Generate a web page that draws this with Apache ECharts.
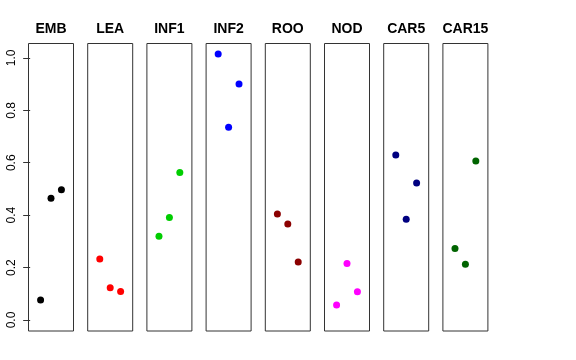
<!DOCTYPE html>
<html>
<head>
<meta charset="utf-8">
<script src="https://cdn.jsdelivr.net/npm/echarts@6/dist/echarts.min.js"></script>
<style>
html,body{margin:0;padding:0;background:#fff;}
#chart{width:576px;height:360px;}
</style>
</head>
<body>
<div id="chart"></div>
<script>
const categories = ['EMB', 'LEA', 'INF1', 'INF2', 'ROO', 'NOD', 'CAR5', 'CAR15'];
const positions = [1, 2, 3];
const rep1 = [0.076, 0.233, 0.320, 1.015, 0.404, 0.057, 0.630, 0.273];
const rep2 = [0.465, 0.123, 0.391, 0.735, 0.366, 0.216, 0.384, 0.213];
const rep3 = [0.497, 0.109, 0.563, 0.900, 0.221, 0.108, 0.523, 0.607];
const colors = ['#000000', '#FF0000', '#00CD00', '#0000FF', '#8B0000', '#FF00FF', '#000080', '#006400'];
const yTicks = [0, 0.2, 0.4, 0.6, 0.8, 1.0];

const FONT = "'Liberation Sans', Arial, Helvetica, sans-serif";
const panelLeft0 = 28.5, panelStep = 59.2, panelW = 45, panelTop = 43.5, panelH = 287.5;
const yMin = -0.042, yMax = 1.055;

const grids = [], xAxes = [], yAxes = [], series = [], titles = [];
categories.forEach((name, i) => {
  const l = panelLeft0 + i * panelStep;
  grids.push({ left: l, top: panelTop, width: panelW, height: panelH, show: true, borderColor: '#333', borderWidth: 1, backgroundColor: 'transparent' });
  xAxes.push({ gridIndex: i, type: 'value', min: -0.16, max: 4.16, show: false });
  const first = i === 0;
  yAxes.push({
    gridIndex: i, type: 'value', min: yMin, max: yMax, show: first,
    axisLine: { show: false },
    splitLine: { show: false },
    axisTick: { show: true, length: 7, lineStyle: { color: '#333' }, customValues: yTicks },
    axisLabel: { show: true, rotate: 90, margin: 11, fontFamily: FONT, fontSize: 12, color: '#000',
      customValues: yTicks, formatter: v => Number(v).toFixed(1) }
  });
  const vals = [rep1[i], rep2[i], rep3[i]];
  series.push({
    type: 'scatter', xAxisIndex: i, yAxisIndex: i, symbol: 'circle', symbolSize: 7,
    itemStyle: { color: colors[i], opacity: 1 },
    data: positions.map((p, k) => [p, vals[k]]),
    silent: true, animation: false
  });
  titles.push({
    text: name, left: l + panelW / 2, top: 22.5, textAlign: 'center', padding: 0,
    textStyle: { fontFamily: FONT, fontSize: 14, fontWeight: 'bold', color: '#000' }
  });
});

const chart = echarts.init(document.getElementById('chart'), null, { renderer: 'canvas' });
chart.setOption({
  animation: false,
  backgroundColor: '#fff',
  title: titles,
  grid: grids,
  xAxis: xAxes,
  yAxis: yAxes,
  series: series
});
</script>
</body>
</html>
